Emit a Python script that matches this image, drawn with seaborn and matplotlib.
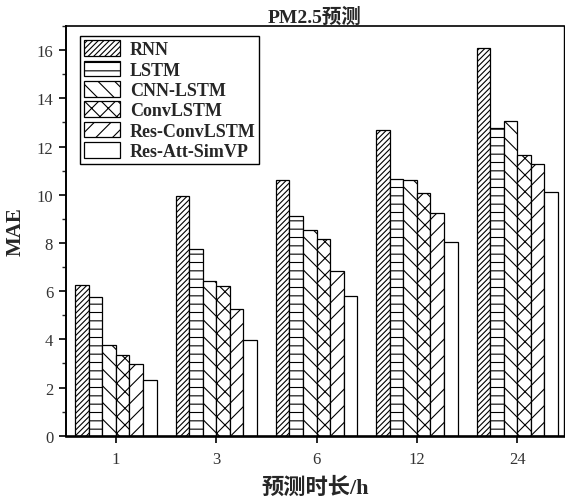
import matplotlib
matplotlib.use("Agg")
import matplotlib.pyplot as plt
import matplotlib.patches as mpatches
from matplotlib.ticker import MultipleLocator
import seaborn as sns
import pandas as pd

horizons = ["1", "3", "6", "12", "24"]
models = ["RNN", "LSTM", "CNN-LSTM", "ConvLSTM", "Res-ConvLSTM", "Res-Att-SimVP"]
rnn = [6.25, 9.93, 10.60, 12.67, 16.08]
lstm = [5.75, 7.75, 9.12, 10.65, 12.78]
cnn_lstm = [3.75, 6.43, 8.54, 10.60, 13.08]
convlstm = [3.35, 6.20, 8.17, 10.07, 11.67]
res_convlstm = [2.99, 5.25, 6.83, 9.25, 11.29]
res_att_simvp = [2.33, 3.97, 5.81, 8.02, 10.13]
hatches = ["//////", "--", "\\\\", "xx", "//", ""]

series = [rnn, lstm, cnn_lstm, convlstm, res_convlstm, res_att_simvp]
rows = []
for m, vals in zip(models, series):
    for h, v in zip(horizons, vals):
        rows.append({"horizon": h, "model": m, "MAE": v})
df = pd.DataFrame(rows)

sns.set_style("ticks")
fam = ["Liberation Serif", "Noto Sans CJK SC"]
plt.rcParams["font.family"] = fam
plt.rcParams["hatch.linewidth"] = 0.8
plt.rcParams["hatch.color"] = "black"

fig = plt.figure(figsize=(5.65, 5.02), dpi=100)
ax = fig.add_axes([0.1163, 0.130, 0.8815, 0.816])

sns.barplot(data=df, x="horizon", y="MAE", hue="model", order=horizons,
            hue_order=models, palette=["white"] * 6, edgecolor="black",
            linewidth=0.9, width=0.81, saturation=1, ax=ax, legend=False)

for cont, h in zip(ax.containers, hatches):
    for p in cont.patches:
        p.set_hatch(h)

ax.set_xlim(-0.5, 4.463)
ax.set_ylim(0, 17)
ax.yaxis.set_major_locator(MultipleLocator(2))
ax.yaxis.set_minor_locator(MultipleLocator(1))
ax.tick_params(axis="both", which="major", direction="out", length=5, width=1.2,
               labelsize=12, labelcolor="#333333", color="black", pad=4)
ax.tick_params(axis="y", which="minor", direction="out", length=3, width=1.0)
ax.tick_params(axis="x", pad=6)

for side, lw in [("left", 1.4), ("bottom", 1.9), ("top", 1.2), ("right", 1.0)]:
    ax.spines[side].set_visible(True)
    ax.spines[side].set_linewidth(lw)
    ax.spines[side].set_color("black")

ax.set_xlabel("预测时长/h", fontsize=16, fontweight="bold", family=fam, labelpad=7)
ax.set_ylabel("MAE", fontsize=15, fontweight="bold", family=fam, labelpad=8)
ax.set_title("PM2.5预测", fontsize=14, fontweight="bold", family=fam, pad=2)

handles = [mpatches.Patch(facecolor="white", edgecolor="black", linewidth=0.9,
                          hatch=h, label=m) for m, h in zip(models, hatches)]
leg = ax.legend(handles=handles, loc="upper left", bbox_to_anchor=(0.028, 0.975),
                borderaxespad=0, frameon=True, fancybox=False, framealpha=1,
                edgecolor="black", prop={"family": fam, "weight": "bold", "size": 13},
                handlelength=2.0, handleheight=0.95, handletextpad=0.55,
                labelspacing=0.13, borderpad=0.22)
leg.get_frame().set_linewidth(1.0)

fig.savefig("out.png", dpi=100)
